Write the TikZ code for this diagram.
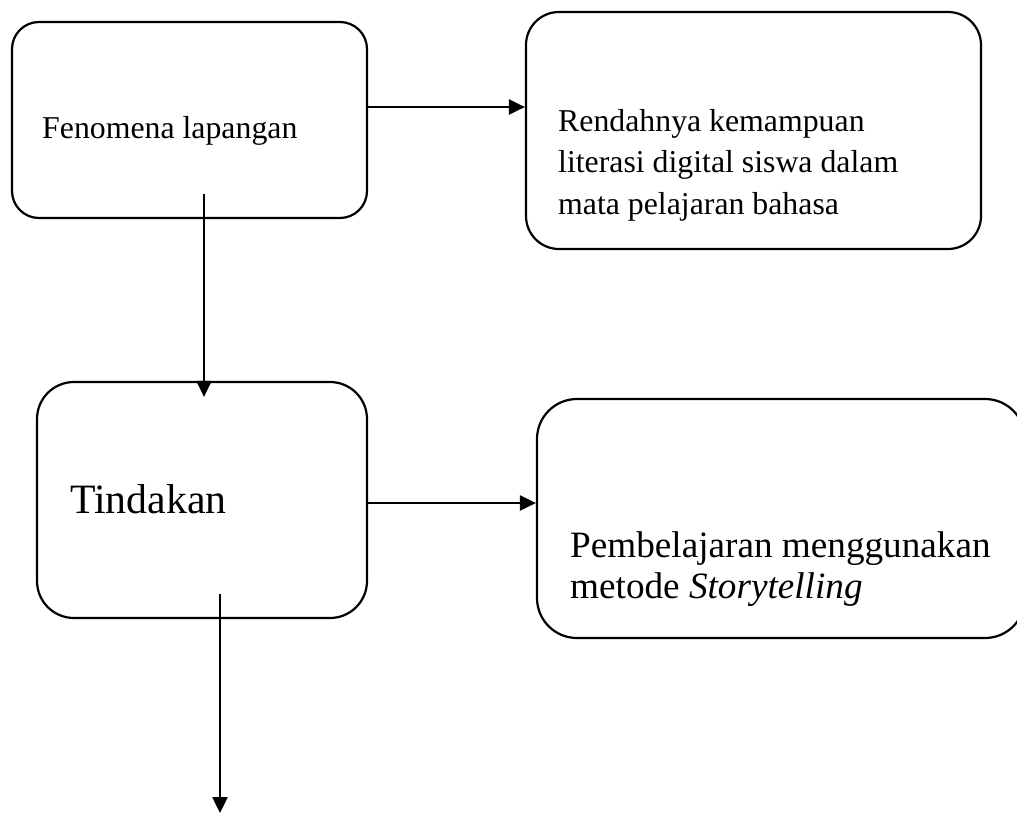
\documentclass[tikz,border=0pt]{standalone}
\usepackage{fontspec}
\setmainfont{Liberation Serif}
\usetikzlibrary{arrows.meta, calc}
\tikzset{
	kotak/.style={draw, line width=2.2pt, inner sep=0pt},
	teks/.style={anchor=base west, inner sep=0pt, align=left},
	panah/.style={line width=2.5pt, -{Triangle[length=16pt, width=15pt]}}
}
\def\hurufkecil{\fontsize{31.8}{41.5}\selectfont}
\def\hurufbesar{\fontsize{41.8}{50}\selectfont}
\def\hurufsedang{\fontsize{37.2}{41}\selectfont}

\begin{document}
\begin{tikzpicture}[x=1pt, y=-1pt]
	\useasboundingbox (0,0) rectangle (1017,814);

	\node[kotak, rounded corners=27pt, minimum width=355pt, minimum height=196pt] (fenomena) at (189.5,120) {};
	\node[kotak, rounded corners=33pt, minimum width=455pt, minimum height=237pt] (masalah) at (753.5,130.5) {};
	\node[kotak, rounded corners=37pt, minimum width=330pt, minimum height=236pt] (tindakan) at (202,500) {};
	\node[kotak, rounded corners=40pt, minimum width=488pt, minimum height=239pt] (solusi) at (781,518.5) {};

	% base of a multi-line node is its last line
	\node[teks, font=\hurufkecil] (fenomenaTeks) at (42,138) {Fenomena lapangan};
	\node[teks, font=\hurufkecil] (masalahTeks) at (558,214) {Rendahnya kemampuan\\literasi digital siswa dalam\\mata pelajaran bahasa};
	\node[teks, font=\hurufbesar] (tindakanTeks) at (70,513) {Tindakan};
	\node[teks, font=\hurufsedang] (solusiTeks) at (570,598) {Pembelajaran menggunakan\\metode \textit{Storytelling}};

	\coordinate (lanjut) at (220,813);

	\draw[panah] ([yshift=13pt]fenomena.east) -- ([yshift=13pt]fenomena.east -| masalah.west);
	\draw[panah] ($(fenomena.south)+(14.5,-25)$) -- ($(tindakan.north)+(2,16)$);
	\draw[panah] ([yshift=-3pt]tindakan.east) -- ([yshift=-3pt]tindakan.east -| solusi.west);
	\draw[panah] ($(tindakan.south)+(18,-25)$) -- (lanjut);
\end{tikzpicture}
\end{document}
